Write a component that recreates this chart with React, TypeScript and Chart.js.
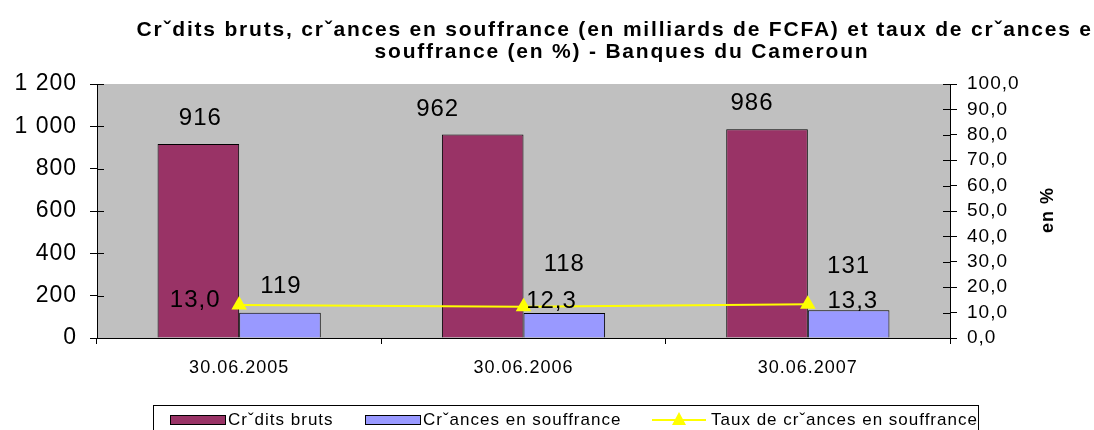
import React, { useEffect, useRef } from "react";
import { Chart, registerables } from "chart.js";

Chart.register(...registerables);

const categories = ["30.06.2005", "30.06.2006", "30.06.2007"];
const creditsBruts = [916, 962, 986];
const creancesSouffrance = [119, 118, 131];
const tauxSouffrance = [13.0, 12.3, 13.3];
const leftTicks = [0, 200, 400, 600, 800, 1000, 1200];
const rightTicks = [0, 10, 20, 30, 40, 50, 60, 70, 80, 90, 100];

const titleLines = [
  "Crˇdits bruts, crˇances en souffrance (en milliards de FCFA) et taux de crˇances en",
  "souffrance (en %) - Banques du Cameroun",
];
const legendLabels = ["Crˇdits bruts", "Crˇances en souffrance", "Taux de crˇances en souffrance"];

const FONT = "'Liberation Sans', Arial, sans-serif";
const C_CREDITS = "#993366";
const C_CREANCES = "#9999FF";
const C_TAUX = "#FFFF00";

const fmtThousands = (v: number) => String(v).replace(/\B(?=(\d{3})+(?!\d))/g, " ");
const fmtPct = (v: number) => v.toFixed(1).replace(".", ",");

const decorPlugin = {
  id: "decor",
  beforeDraw(chart: any) {
    const { ctx, chartArea } = chart;
    (ctx as any).letterSpacing = "1px";
    ctx.save();
    ctx.fillStyle = "#C0C0C0";
    ctx.fillRect(chartArea.left, chartArea.top, chartArea.right - chartArea.left, chartArea.bottom - chartArea.top);
    ctx.restore();
  },
  afterDraw(chart: any) {
    const { ctx, chartArea } = chart;
    ctx.save();
    // title
    ctx.fillStyle = "#000";
    ctx.font = `bold 21px ${FONT}`;
    (ctx as any).letterSpacing = "1.8px";
    ctx.textAlign = "center";
    ctx.textBaseline = "middle";
    ctx.fillText(titleLines[0], 622, 30);
    ctx.fillText(titleLines[1], 622, 52);
    (ctx as any).letterSpacing = "1px";

    // inner parts of tick marks on y axes
    ctx.strokeStyle = "#000";
    ctx.lineWidth = 1;
    const yL = chart.scales.y;
    leftTicks.forEach((t) => {
      const py = Math.round(yL.getPixelForValue(t)) + 0.5;
      ctx.beginPath();
      ctx.moveTo(chartArea.left, py);
      ctx.lineTo(chartArea.left + 7, py);
      ctx.stroke();
    });
    const yR = chart.scales.y1;
    rightTicks.forEach((t) => {
      const py = Math.round(yR.getPixelForValue(t)) + 0.5;
      ctx.beginPath();
      ctx.moveTo(chartArea.right - 7, py);
      ctx.lineTo(chartArea.right, py);
      ctx.stroke();
    });

    // data labels
    const opts = chart.options.plugins.decor;
    ctx.fillStyle = "#000";
    ctx.textAlign = "center";
    ctx.textBaseline = "middle";
    ctx.font = `24px ${FONT}`;
    const m0 = chart.getDatasetMeta(0);
    m0.data.forEach((el: any, i: number) => {
      const o = opts.creditOffsets[i];
      ctx.fillText(fmtThousands(creditsBruts[i]), el.x + o[0], el.y + o[1]);
    });
    const m1 = chart.getDatasetMeta(1);
    m1.data.forEach((el: any, i: number) => {
      const o = opts.creanceOffsets[i];
      ctx.fillText(fmtThousands(creancesSouffrance[i]), el.x + o[0], el.y + o[1]);
    });
    const m2 = chart.getDatasetMeta(2);
    m2.data.forEach((el: any, i: number) => {
      const o = opts.tauxOffsets[i];
      ctx.fillText(fmtPct(tauxSouffrance[i]), el.x + o[0], el.y + o[1]);
    });

    // right axis title
    ctx.save();
    ctx.translate(1048, 210);
    ctx.rotate(-Math.PI / 2);
    ctx.font = `bold 18px ${FONT}`;
    ctx.fillText("en %", 0, 0);
    ctx.restore();

    // legend
    ctx.strokeStyle = "#000";
    ctx.lineWidth = 1;
    ctx.strokeRect(153.5, 405.5, 825, 40);
    ctx.font = `17px ${FONT}`;
    ctx.textAlign = "left";
    ctx.textBaseline = "middle";
    const ly = 420;
    // item 1
    ctx.fillStyle = C_CREDITS;
    ctx.fillRect(170, ly - 5, 56, 10);
    ctx.strokeRect(170.5, ly - 4.5, 55, 9);
    ctx.fillStyle = "#000";
    ctx.fillText(legendLabels[0], 228, ly);
    // item 2
    ctx.fillStyle = C_CREANCES;
    ctx.fillRect(365, ly - 5, 56, 10);
    ctx.strokeRect(365.5, ly - 4.5, 55, 9);
    ctx.fillStyle = "#000";
    ctx.fillText(legendLabels[1], 423, ly);
    // item 3
    ctx.strokeStyle = C_TAUX;
    ctx.lineWidth = 2;
    ctx.beginPath();
    ctx.moveTo(652, ly);
    ctx.lineTo(706, ly);
    ctx.stroke();
    ctx.fillStyle = C_TAUX;
    ctx.beginPath();
    ctx.moveTo(679, ly - 8);
    ctx.lineTo(686, ly + 5);
    ctx.lineTo(672, ly + 5);
    ctx.closePath();
    ctx.fill();
    ctx.fillStyle = "#000";
    ctx.fillText(legendLabels[2], 711, ly);
    ctx.restore();
  },
};

export default function App() {
  const ref = useRef<HTMLCanvasElement | null>(null);
  useEffect(() => {
    document.body.style.margin = "0";
    const canvas = ref.current;
    if (!canvas) return;
    const chart = new Chart(canvas, {
      type: "bar",
      data: {
        labels: categories,
        datasets: [
          {
            type: "bar",
            label: legendLabels[0],
            data: creditsBruts,
            backgroundColor: C_CREDITS,
            borderColor: "#000",
            borderWidth: 1,
            yAxisID: "y",
            order: 2,
            categoryPercentage: 0.574,
            barPercentage: 1,
          },
          {
            type: "bar",
            label: legendLabels[1],
            data: creancesSouffrance,
            backgroundColor: C_CREANCES,
            borderColor: "#000",
            borderWidth: 1,
            yAxisID: "y",
            order: 2,
            categoryPercentage: 0.574,
            barPercentage: 1,
          },
          {
            type: "line",
            label: legendLabels[2],
            data: tauxSouffrance,
            borderColor: C_TAUX,
            backgroundColor: C_TAUX,
            borderWidth: 2,
            pointStyle: "triangle",
            pointRadius: 9,
            pointBorderWidth: 0,
            yAxisID: "y1",
            order: 0,
            tension: 0,
          },
        ] as any,
      },
      options: {
        animation: false,
        responsive: false,
        layout: { padding: { top: 84, left: 0, right: 0, bottom: 0 } },
        plugins: {
          legend: { display: false },
          title: { display: false },
          tooltip: { enabled: false },
          decor: {
            creditOffsets: [[2, -26], [-45, -25], [-15, -26]],
            creanceOffsets: [[1, -26], [0, -49], [0, -44]],
            tauxOffsets: [[-44, -5], [28, -5], [45, -3]],
          },
        } as any,
        scales: {
          x: {
            offset: true,
            grid: {
              offset: true,
              drawOnChartArea: false,
              drawTicks: true,
              tickLength: 6,
              color: "#000",
            },
            border: { display: true, color: "#000", width: 1 },
            ticks: {
              color: "#000",
              font: { family: FONT, size: 18 },
              padding: 13,
              maxRotation: 0,
            },
            afterFit: (scale: any) => {
              scale.height = 92;
            },
          },
          y: {
            position: "left",
            min: 0,
            max: 1200,
            afterBuildTicks: (scale: any) => {
              scale.ticks = leftTicks.map((v) => ({ value: v }));
            },
            grid: { drawOnChartArea: false, tickLength: 7, color: "#000" },
            border: { display: true, color: "#000", width: 1 },
            ticks: {
              color: "#000",
              autoSkip: false,
              font: { family: FONT, size: 23 },
              padding: 13,
              callback: (v: any) => fmtThousands(Number(v)),
            },
            afterFit: (scale: any) => {
              scale.width = 97;
            },
          },
          y1: {
            position: "right",
            min: 0,
            max: 100,
            afterBuildTicks: (scale: any) => {
              scale.ticks = rightTicks.map((v) => ({ value: v }));
            },
            grid: { drawOnChartArea: false, tickLength: 7, color: "#000" },
            border: { display: true, color: "#000", width: 1 },
            ticks: {
              color: "#000",
              autoSkip: false,
              font: { family: FONT, size: 19 },
              padding: 10,
              callback: (v: any) => fmtPct(Number(v)),
            },
            afterFit: (scale: any) => {
              scale.width = 144;
            },
          },
        },
      } as any,
      plugins: [decorPlugin],
    });
    return () => chart.destroy();
  }, []);
  return (
    <div style={{ width: 1094, height: 430 }}>
      <canvas ref={ref} width={1094} height={430} style={{ display: "block", width: 1094, height: 430 }} />
    </div>
  );
}
